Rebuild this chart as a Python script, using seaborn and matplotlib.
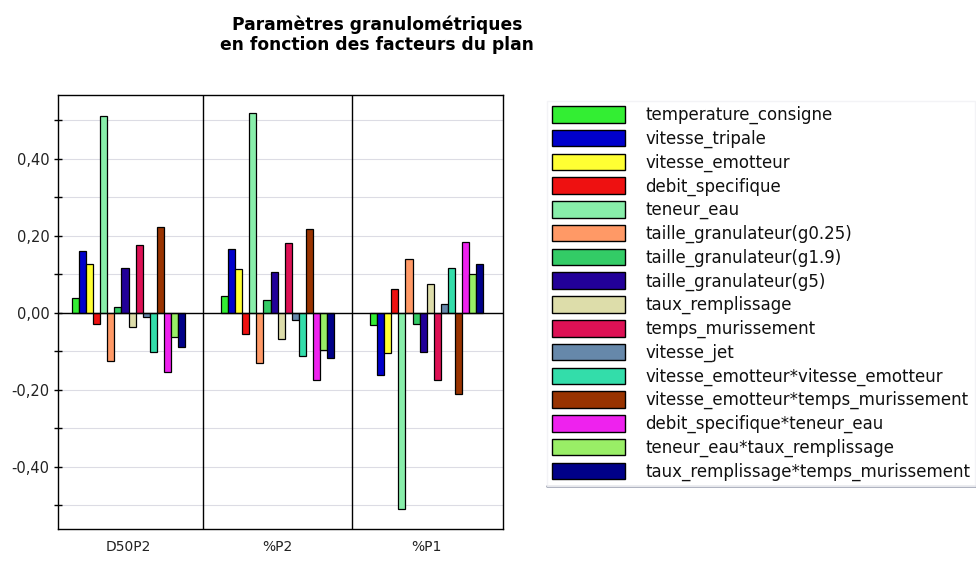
import matplotlib
matplotlib.use("Agg")
import matplotlib.pyplot as plt
from matplotlib.ticker import MultipleLocator, FuncFormatter
from matplotlib.lines import Line2D
import seaborn as sns
import pandas as pd

sns.set_theme(style="white")
plt.rcParams['font.family'] = ['DejaVu Sans']

responses = ["D50P2", "%P2", "%P1"]
factors = [
    "temperature_consigne", "vitesse_tripale", "vitesse_emotteur", "debit_specifique",
    "teneur_eau", "taille_granulateur(g0.25)", "taille_granulateur(g1.9)",
    "taille_granulateur(g5)", "taux_remplissage", "temps_murissement", "vitesse_jet",
    "vitesse_emotteur*vitesse_emotteur", "vitesse_emotteur*temps_murissement",
    "debit_specifique*teneur_eau", "teneur_eau*taux_remplissage",
    "taux_remplissage*temps_murissement",
]
d50p2 = [0.037, 0.161, 0.125, -0.029, 0.511, -0.125, 0.015, 0.115,
         -0.038, 0.176, -0.011, -0.102, 0.222, -0.154, -0.064, -0.089]
p2 = [0.042, 0.166, 0.114, -0.056, 0.519, -0.130, 0.033, 0.106,
      -0.069, 0.180, -0.019, -0.112, 0.217, -0.176, -0.097, -0.119]
p1 = [-0.033, -0.162, -0.106, 0.061, -0.511, 0.138, -0.029, -0.102,
      0.075, -0.176, 0.023, 0.115, -0.212, 0.184, 0.100, 0.126]
colors = ["#33ee33", "#0000cc", "#ffff33", "#ee1111", "#88eeaa", "#ff9966",
          "#33cc66", "#220099", "#ddddaa", "#dd1155", "#6688aa", "#33ddaa",
          "#993300", "#ee22ee", "#99ee66", "#000088"]

rows = []
for resp, vals in zip(responses, [d50p2, p2, p1]):
    for f, v in zip(factors, vals):
        rows.append({"reponse": resp, "facteur": f, "effet": v})
df = pd.DataFrame(rows)

fig = plt.figure(figsize=(9.76, 5.61), dpi=100)
ax = fig.add_axes([58 / 976, 1 - 529 / 561, 445 / 976, 434 / 561])

sns.barplot(data=df, x="reponse", y="effet", hue="facteur", order=responses,
            hue_order=factors, palette=dict(zip(factors, colors)), width=0.76,
            edgecolor="black", linewidth=0.9, saturation=1, ax=ax, zorder=3)

handles, labels = ax.get_legend_handles_labels()
if ax.legend_ is not None:
    ax.legend_.remove()

ax.set_xlim(-0.473, 2.512)
ax.set_ylim(-0.562, 0.565)
ax.yaxis.set_major_locator(MultipleLocator(0.2))
ax.yaxis.set_minor_locator(MultipleLocator(0.1))
ax.yaxis.set_major_formatter(FuncFormatter(lambda v, p: f"{v:.2f}".replace(".", ",")))
ax.grid(True, which="both", axis="y", color="#dcdce4", linewidth=0.8, zorder=0)
ax.axhline(0, color="black", linewidth=1.0, zorder=4)
for xv in [0.5, 1.5]:
    ax.axvline(xv, color="black", linewidth=1.0, zorder=4)
for s in ax.spines.values():
    s.set_color("black")
    s.set_linewidth(1.0)
ax.tick_params(axis="y", which="both", direction="inout", length=6, width=1,
               color="black", left=True, labelsize=10.5, labelcolor="#222222", pad=3)
ax.tick_params(axis="x", length=0, labelsize=10, labelcolor="#222222", pad=8)
ax.set_xlabel("")
ax.set_ylabel("")

fig.text(377 / 976, 1 - 35 / 561,
         "Paramètres granulométriques\nen fonction des facteurs du plan",
         ha="center", va="center", fontsize=12.3, fontweight="bold",
         color="black", linespacing=1.15)

leg = fig.legend(handles, labels, loc="upper left",
                 bbox_to_anchor=(547 / 976, 1 - 101 / 561), fontsize=12,
                 handlelength=4.4, handleheight=1.15, labelspacing=0.33,
                 handletextpad=1.2, borderpad=0.3, borderaxespad=0,
                 frameon=True, fancybox=False, labelcolor="#111111")
leg.get_frame().set_edgecolor("#f0f0f4")
leg.get_frame().set_linewidth(1.0)
for h in leg.legend_handles:
    h.set_edgecolor("black")
    h.set_linewidth(1.0)

# gray rule along the bottom of the legend box
fig.canvas.draw()
bb = leg.get_window_extent().transformed(fig.transFigure.inverted())
fig.add_artist(Line2D([bb.x0, 1.0], [bb.y0, bb.y0], transform=fig.transFigure,
                      color="#9aa0b0", linewidth=2.0))

fig.savefig("out.png", dpi=100)
